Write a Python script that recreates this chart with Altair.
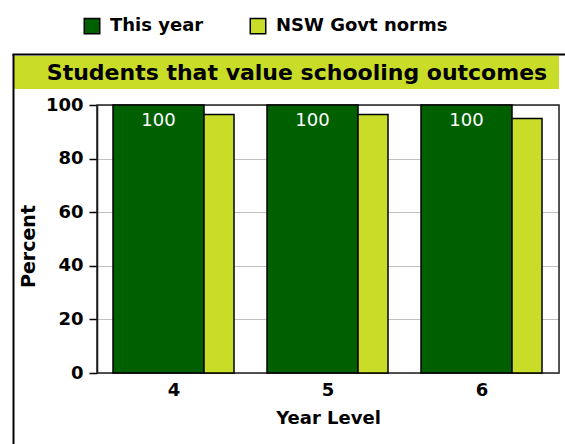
import altair as alt
import pandas as pd

years = ["4", "5", "6"]
this_year = [100, 100, 100]
nsw_norms = [96.5, 96.5, 95]
series_names = ["This year", "NSW Govt norms"]
colors = ["#006000", "#c8dc28"]
chart_title = "Students that value schooling outcomes"

rows = []
for y, a, b in zip(years, this_year, nsw_norms):
    rows.append({"year": y, "series": series_names[0], "value": a})
    rows.append({"year": y, "series": series_names[1], "value": b})
df = pd.DataFrame(rows)

FONT = "DejaVu Sans"
INK = "black"

x_enc = alt.X(
    "year:N",
    sort=years,
    scale=alt.Scale(paddingInner=0.22, paddingOuter=0.11),
    axis=alt.Axis(
        title="Year Level", labelAngle=0, ticks=False, domain=False,
        labelFont=FONT, labelFontSize=18, labelFontWeight="bold", labelColor=INK,
        labelPadding=8,
        titleFont=FONT, titleFontSize=18, titleFontWeight="bold", titleColor=INK,
        titleBaseline="alphabetic", titleY=50,
    ),
)
y_enc = alt.Y(
    "value:Q",
    scale=alt.Scale(domain=[0, 100], nice=False),
    axis=alt.Axis(
        values=[0, 20, 40, 60, 80, 100], title="Percent",
        tickSize=8, tickColor="black", tickWidth=1.5,
        domainColor="black", domainWidth=1.5,
        labelFont=FONT, labelFontSize=18, labelFontWeight="bold", labelColor=INK,
        labelPadding=6,
        gridColor="#c0c0c0", gridWidth=1.2,
        titleFont=FONT, titleFontSize=19, titleFontWeight="bold", titleColor=INK,
        titleAngle=270, titleX=-69, titleY=141, titleAlign="center", titleBaseline="middle",
    ),
)
color_enc = alt.Color(
    "series:N",
    scale=alt.Scale(domain=series_names, range=colors),
    legend=alt.Legend(
        title=None, orient="none", direction="horizontal", legendX=-14, legendY=-88,
        symbolType="square", symbolSize=240, symbolStrokeColor="black", symbolStrokeWidth=1.5,
        symbolOpacity=1, labelFont=FONT, labelFontSize=18, labelFontWeight="bold",
        labelColor=INK, labelOffset=9, labelLimit=400, columnPadding=43, padding=0,
    ),
)

base = alt.Chart(df)
green = base.transform_filter(alt.datum.series == series_names[0]).mark_bar(
    width=91, xOffset=-15.5, stroke="black", strokeWidth=1.5
).encode(x=x_enc, y=y_enc, color=color_enc)
yellow = base.transform_filter(alt.datum.series == series_names[1]).mark_bar(
    width=30, xOffset=45, stroke="black", strokeWidth=1.5
).encode(x=x_enc, y=y_enc, color=color_enc)
labels = base.transform_filter(alt.datum.series == series_names[0]).mark_text(
    dy=16, xOffset=-15.5, color="white", font=FONT, fontSize=18, fontWeight="normal", baseline="middle"
).encode(x=x_enc, y=y_enc, text=alt.Text("value:Q"))

one = alt.Chart(pd.DataFrame({"t": [chart_title]}))
band = one.mark_rect(color="#c8dc28").encode(
    x=alt.value(-83), x2=alt.value(462), y=alt.value(-49), y2=alt.value(-16)
)
frame_left = one.mark_rule(color="black", strokeWidth=2).encode(
    x=alt.value(-83.5), y=alt.value(-51), y2=alt.value(400)
)
frame_top = one.mark_rule(color="black", strokeWidth=2).encode(
    x=alt.value(-84.5), x2=alt.value(480), y=alt.value(-50.5)
)
plot_box = one.mark_rect(fill=None, fillOpacity=0, stroke="#222222", strokeWidth=1.5).encode(
    x=alt.value(0), x2=alt.value(462), y=alt.value(0), y2=alt.value(268)
)
title_txt = one.mark_text(
    font=FONT, fontSize=22, fontWeight="bold", color=INK, align="center", baseline="alphabetic"
).encode(x=alt.value(200), y=alt.value(-25), text="t:N")

chart = alt.layer(band, frame_left, frame_top, title_txt, plot_box, green, yellow, labels).properties(
    width=462, height=268,
    padding={"left": 97, "top": 105, "right": 6, "bottom": 71},
    autosize=alt.AutoSizeParams(type="none"),
).configure_view(stroke=None).configure(background="white")

chart.save("out.html", embed_options={"renderer": "svg", "actions": False})
